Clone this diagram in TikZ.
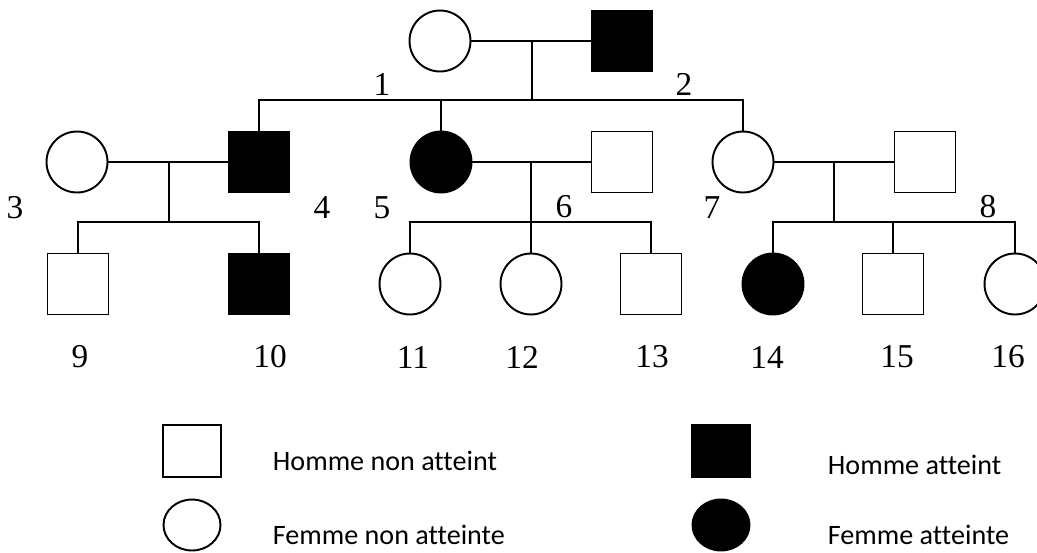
\documentclass[tikz,border=0pt]{standalone}
\usepackage{fontspec}
\setmainfont{Liberation Serif}
\newfontfamily\legendfont[Ligatures={NoCommon}]{Carlito}
\usetikzlibrary{shapes.geometric}
\begin{document}
\begin{tikzpicture}[x=0.02cm,y=-0.02cm,line width=1.1pt,
  male/.style={draw,rectangle,minimum size=1.22cm,inner sep=0pt},
  female/.style={draw,circle,minimum size=1.22cm,inner sep=0pt},
  sick/.style={fill=black},
  num/.style={font=\fontsize{19}{22}\selectfont,inner sep=0pt},
  keymale/.style={draw,rectangle,minimum width=1.16cm,minimum height=1.04cm,inner sep=0pt},
  keyfemale/.style={draw,ellipse,minimum width=1.14cm,minimum height=1.02cm,inner sep=0pt},
  keytext/.style={font=\legendfont\fontsize{16}{19}\selectfont,anchor=base west,inner sep=0pt}]
\useasboundingbox (0,0) rectangle (1037,552);
\node[female] (i1) at (440,41) {};
\node[male,sick] (i2) at (622,41) {};
\node[female] (ii3) at (77,162) {};
\node[male,sick] (ii4) at (259,162) {};
\node[female,sick] (ii5) at (441,162) {};
\node[male] (ii6) at (622,162) {};
\node[female] (ii7) at (743,162) {};
\node[male] (ii8) at (925,162) {};
\node[male] (iii9) at (78,284) {};
\node[male,sick] (iii10) at (259,284) {};
\node[female] (iii11) at (410,284) {};
\node[female] (iii12) at (531,284) {};
\node[male] (iii13) at (651,284) {};
\node[female,sick] (iii14) at (773,284) {};
\node[male] (iii15) at (893,284) {};
\node[female] (iii16) at (1015,284) {};
\coordinate (u1) at (532,41);
\coordinate (s1) at (532,100);
\coordinate (u2) at (169,162);
\coordinate (s2) at (169,222);
\coordinate (u3) at (531,162);
\coordinate (s3) at (531,222);
\coordinate (u4) at (834,162);
\coordinate (s4) at (834,222);
\draw (i1) -- (i2);
\draw (u1) -- (s1);
\draw (ii4.north) |- (s1) -| (ii7.north);
\draw (ii5.north) -- (ii5.north |- s1);
\draw (ii3) -- (ii4);
\draw (u2) -- (s2);
\draw (iii9.north) |- (s2) -| (iii10.north);
\draw (ii5) -- (ii6);
\draw (u3) -- (iii12.north);
\draw (iii11.north) |- (s3) -| (iii13.north);
\draw (ii7) -- (ii8);
\draw (u4) -- (s4);
\draw (iii14.north) |- (s4) -| (iii16.north);
\draw (iii15.north) -- (iii15.north |- s4);
\node[num] (n1) at (382,84) {1};
\node[num] (n2) at (684,84) {2};
\node[num] (n3) at (15,208) {3};
\node[num] (n4) at (322,208) {4};
\node[num] (n5) at (382,208) {5};
\node[num] (n6) at (564,207) {6};
\node[num] (n7) at (712,208) {7};
\node[num] (n8) at (988,207) {8};
\node[num] (n9) at (80,357) {9};
\node[num] (n10) at (270,357) {10};
\node[num] (n11) at (413,357) {11};
\node[num] (n12) at (522,357) {12};
\node[num] (n13) at (652,357) {13};
\node[num] (n14) at (767,357) {14};
\node[num] (n15) at (897,357) {15};
\node[num] (n16) at (1008,357) {16};
\node[keymale] (k1) at (192,451) {};
\node[keyfemale] (k2) at (192,525) {};
\node[keymale,sick] (k3) at (721,451) {};
\node[keyfemale,sick] (k4) at (721,525) {};
\node[keytext] (t1) at (272,470) {Homme non atteint};
\node[keytext] (t2) at (272,544) {Femme non atteinte};
\node[keytext] (t3) at (827,474) {Homme atteint};
\node[keytext] (t4) at (827,544) {Femme atteinte};
\end{tikzpicture}
\end{document}
